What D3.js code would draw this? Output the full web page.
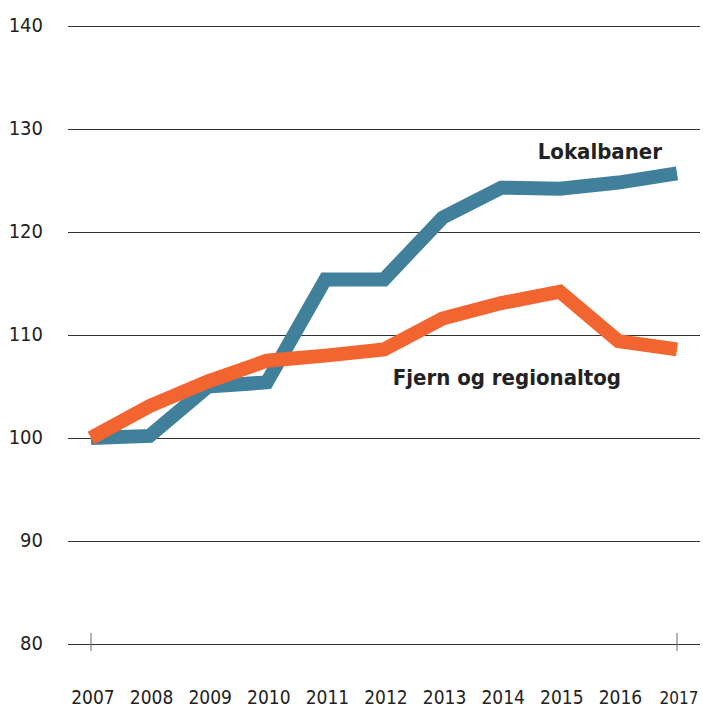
<!DOCTYPE html>
<html>
<head>
<meta charset="utf-8">
<script src="https://cdn.jsdelivr.net/npm/d3@7"></script>
<style>
  body { margin: 0; background: #fff; }
  text { font-family: "DejaVu Sans Condensed", "Liberation Sans Narrow", sans-serif; fill: #222; }
</style>
</head>
<body>
<script>
// ---------------------- DATA ----------------------
const years = [2007, 2008, 2009, 2010, 2011, 2012, 2013, 2014, 2015, 2016, 2017];
const lokalbaner = [100, 100.2, 105.0, 105.4, 115.4, 115.4, 121.4, 124.3, 124.2, 124.8, 125.7];
const fjernRegional = [100, 103.1, 105.5, 107.5, 108.0, 108.6, 111.6, 113.1, 114.2, 109.4, 108.6];
const yTicks = [80, 90, 100, 110, 120, 130, 140];

// ---------------------- SETUP ----------------------
const width = 703, height = 710;

const svg = d3.select("body").append("svg")
    .attr("width", width)
    .attr("height", height);

const x = d3.scaleLinear().domain([2007, 2017]).range([91, 677]);
const y = d3.scaleLinear().domain([80, 140]).range([644, 26]);

// gridlines
svg.append("g")
    .selectAll("line")
    .data(yTicks)
    .enter().append("line")
    .attr("x1", 68)
    .attr("x2", 700)
    .attr("y1", d => y(d) + 0.5)
    .attr("y2", d => y(d) + 0.5)
    .attr("stroke", "#333")
    .attr("stroke-width", 1.2);

// y labels
svg.append("g")
    .selectAll("text")
    .data(yTicks)
    .enter().append("text")
    .attr("x", 43)
    .attr("y", d => y(d) + 6)
    .attr("text-anchor", "end")
    .style("font-size", "20px")
    .text(d => d);

// tick marks at both ends
svg.append("g")
    .selectAll("line")
    .data([years[0], years[years.length - 1]])
    .enter().append("line")
    .attr("x1", d => x(d))
    .attr("x2", d => x(d))
    .attr("y1", y(80) - 11)
    .attr("y2", y(80) + 7)
    .attr("stroke", "#666")
    .attr("stroke-width", 1);

// x labels
svg.append("g")
    .selectAll("text")
    .data(years)
    .enter().append("text")
    .attr("x", d => x(d) + 2)
    .attr("y", 704)
    .attr("text-anchor", "middle")
    .style("font-size", d => d === 2017 ? "17px" : "19px")
    .text(d => d);

// ---------------------- LINES ----------------------
const line = d3.line()
    .x((d, i) => x(years[i]))
    .y(d => y(d));

svg.append("path")
    .datum(lokalbaner)
    .attr("d", line)
    .attr("fill", "none")
    .attr("stroke", "#41809b")
    .attr("stroke-width", 14);

svg.append("path")
    .datum(fjernRegional)
    .attr("d", line)
    .attr("fill", "none")
    .attr("stroke", "#f26430")
    .attr("stroke-width", 14);

// series labels
svg.append("text")
    .attr("x", 662)
    .attr("y", 159)
    .attr("text-anchor", "end")
    .style("font-size", "22px")
    .style("font-weight", "bold")
    .text("Lokalbaner");

svg.append("text")
    .attr("x", 621)
    .attr("y", 385)
    .attr("text-anchor", "end")
    .style("font-size", "22px")
    .style("font-weight", "bold")
    .text("Fjern og regionaltog");
</script>
</body>
</html>
